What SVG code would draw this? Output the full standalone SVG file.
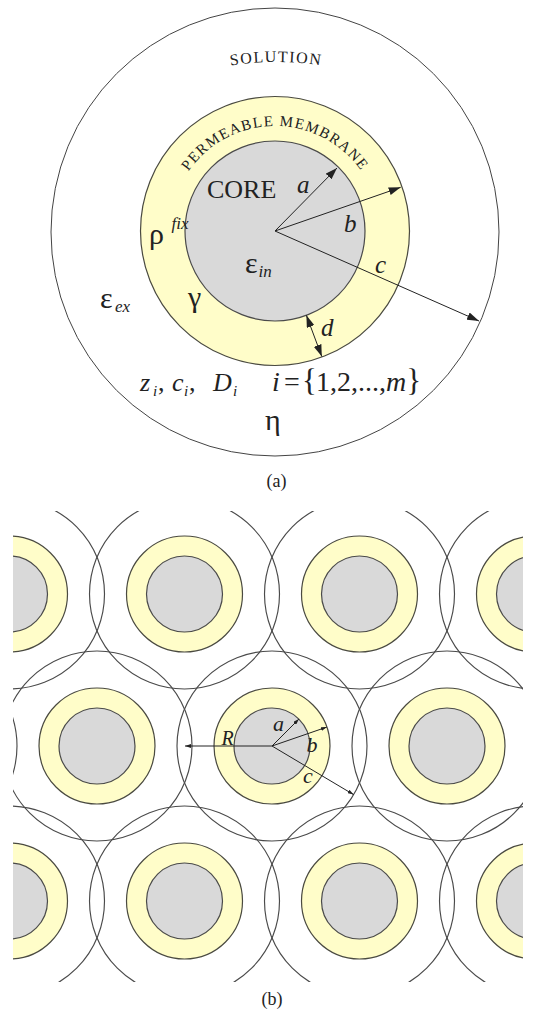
<svg xmlns="http://www.w3.org/2000/svg" xmlns:xlink="http://www.w3.org/1999/xlink" width="536" height="1012" viewBox="0 0 536 1012">
<style>
text{font-family:"Liberation Serif","Times New Roman","DejaVu Serif",serif;fill:#222}
.it{font-style:italic}
.outer{fill:none;stroke:#444;stroke-width:1}
.mem{fill:#FFFDC9;stroke:#4a4a40;stroke-width:1.2}
.core{fill:#D9D9D9;stroke:#4a4a4a;stroke-width:1.2}
.cell{fill:none;stroke:#4a4a4a;stroke-width:1.15}
.arr{stroke:#222;stroke-width:1;fill:none}
</style>
<defs>
<marker id="ah" markerUnits="userSpaceOnUse" markerWidth="12" markerHeight="8" refX="12" refY="4" orient="auto-start-reverse"><path d="M0,0 L12,4 L0,8 z" fill="#222"/></marker>
<marker id="ahs" markerUnits="userSpaceOnUse" markerWidth="6" markerHeight="4" refX="6" refY="2" orient="auto"><path d="M0,0 L6,2 L0,4 z" fill="#222"/></marker>
<path id="solArc" d="M186,75.8 A300,300 0 0,1 366,75.8"/>
<path id="memArc" d="M170,231 A105,105 0 0,1 380,231"/>
<g id="part"><circle r="58" class="mem"/><circle r="38" class="core"/></g>
<clipPath id="clipb"><rect x="13" y="511" width="510" height="471"/></clipPath>
</defs>

<!-- (a) -->
<g id="solution"><circle cx="275" cy="232" r="224" class="outer"/>
<text font-size="16" letter-spacing="1.4"><textPath xlink:href="#solArc" startOffset="50%" text-anchor="middle">SOLUTION</textPath></text></g>
<g id="membrane"><circle cx="275" cy="231" r="134.5" class="mem"/>
<text font-size="15" letter-spacing="1.3"><textPath xlink:href="#memArc" startOffset="50%" text-anchor="middle">PERMEABLE MEMBRANE</textPath></text></g>
<g id="core"><circle cx="275" cy="231" r="90" class="core"/>
<text x="207" y="198" font-size="26">CORE</text></g>

<g id="connectors-a">
<line class="arr" x1="275" y1="231" x2="337" y2="168" marker-end="url(#ah)"/>
<line class="arr" x1="275" y1="231" x2="400.7" y2="187.3" marker-end="url(#ah)"/>
<line class="arr" x1="275" y1="231" x2="479" y2="321" marker-end="url(#ah)"/>
<line class="arr" x1="306.4" y1="315.3" x2="321.8" y2="356.6" marker-start="url(#ah)" marker-end="url(#ah)"/>
</g>

<g id="labels-a">
<text class="it" x="297" y="193" font-size="25">a</text>
<text class="it" x="344" y="232" font-size="25">b</text>
<text class="it" x="375" y="272.5" font-size="25">c</text>
<text class="it" x="321" y="336" font-size="25">d</text>
<text x="149" y="244" font-size="30">ρ</text>
<text class="it" x="171.5" y="229" font-size="17">fix</text>
<text x="245" y="273" font-size="30">ε</text>
<text class="it" x="258.5" y="277" font-size="17">in</text>
<text x="100" y="308" font-size="30">ε</text>
<text class="it" x="115" y="311.5" font-size="17">ex</text>
<text x="188" y="307" font-size="30">γ</text>
<text x="265" y="430" font-size="30">η</text>
<text y="391" font-size="26"><tspan class="it" x="140">z</tspan><tspan class="it" x="153" y="396" font-size="15">i</tspan><tspan x="158" y="391">,</tspan><tspan class="it" x="172">c</tspan><tspan class="it" x="184" y="396" font-size="15">i</tspan><tspan x="189" y="391">,</tspan><tspan class="it" x="213">D</tspan><tspan class="it" x="233" y="396" font-size="15">i</tspan></text>
<text y="391" font-size="28"><tspan class="it" x="272">i</tspan><tspan x="284">=</tspan><tspan x="302" font-size="31">{</tspan><tspan x="316">1,2,...,</tspan><tspan class="it">m</tspan><tspan font-size="31">}</tspan></text>
<text x="276.5" y="487" font-size="18" text-anchor="middle">(a)</text>
</g>

<!-- (b) -->
<g id="lattice" clip-path="url(#clipb)">
<g id="particles">
<use xlink:href="#part" x="9.5" y="594"/><use xlink:href="#part" x="184.5" y="594"/><use xlink:href="#part" x="359.5" y="594"/><use xlink:href="#part" x="534.5" y="594"/>
<use xlink:href="#part" x="97" y="746"/><use xlink:href="#part" x="272" y="746"/><use xlink:href="#part" x="447" y="746"/>
<use xlink:href="#part" x="9.5" y="901"/><use xlink:href="#part" x="184.5" y="901"/><use xlink:href="#part" x="359.5" y="901"/><use xlink:href="#part" x="534.5" y="901"/>
</g>
<g id="cells">
<circle class="cell" cx="9.5" cy="594" r="95"/><circle class="cell" cx="184.5" cy="594" r="95"/><circle class="cell" cx="359.5" cy="594" r="95"/><circle class="cell" cx="534.5" cy="594" r="95"/>
<circle class="cell" cx="-78" cy="746" r="95"/><circle class="cell" cx="97" cy="746" r="95"/><circle class="cell" cx="272" cy="746" r="95"/><circle class="cell" cx="447" cy="746" r="95"/><circle class="cell" cx="622" cy="746" r="95"/>
<circle class="cell" cx="9.5" cy="901" r="95"/><circle class="cell" cx="184.5" cy="901" r="95"/><circle class="cell" cx="359.5" cy="901" r="95"/><circle class="cell" cx="534.5" cy="901" r="95"/>
</g>
<g id="connectors-b">
<line class="arr" x1="272" y1="746" x2="185" y2="746" marker-end="url(#ahs)"/>
<line class="arr" x1="272" y1="746" x2="298.9" y2="719.1" marker-end="url(#ahs)"/>
<line class="arr" x1="272" y1="746" x2="326.8" y2="727.1" marker-end="url(#ahs)"/>
<line class="arr" x1="272" y1="746" x2="353.6" y2="794.6" marker-end="url(#ahs)"/>
</g>
<g id="labels-b">
<text class="it" x="221.5" y="745" font-size="20">R</text>
<text class="it" x="273" y="730.5" font-size="22">a</text>
<text class="it" x="306.5" y="751.5" font-size="22">b</text>
<text class="it" x="303" y="783" font-size="22">c</text>
</g>
</g>
<text x="272" y="1005" font-size="18" text-anchor="middle">(b)</text>
</svg>
